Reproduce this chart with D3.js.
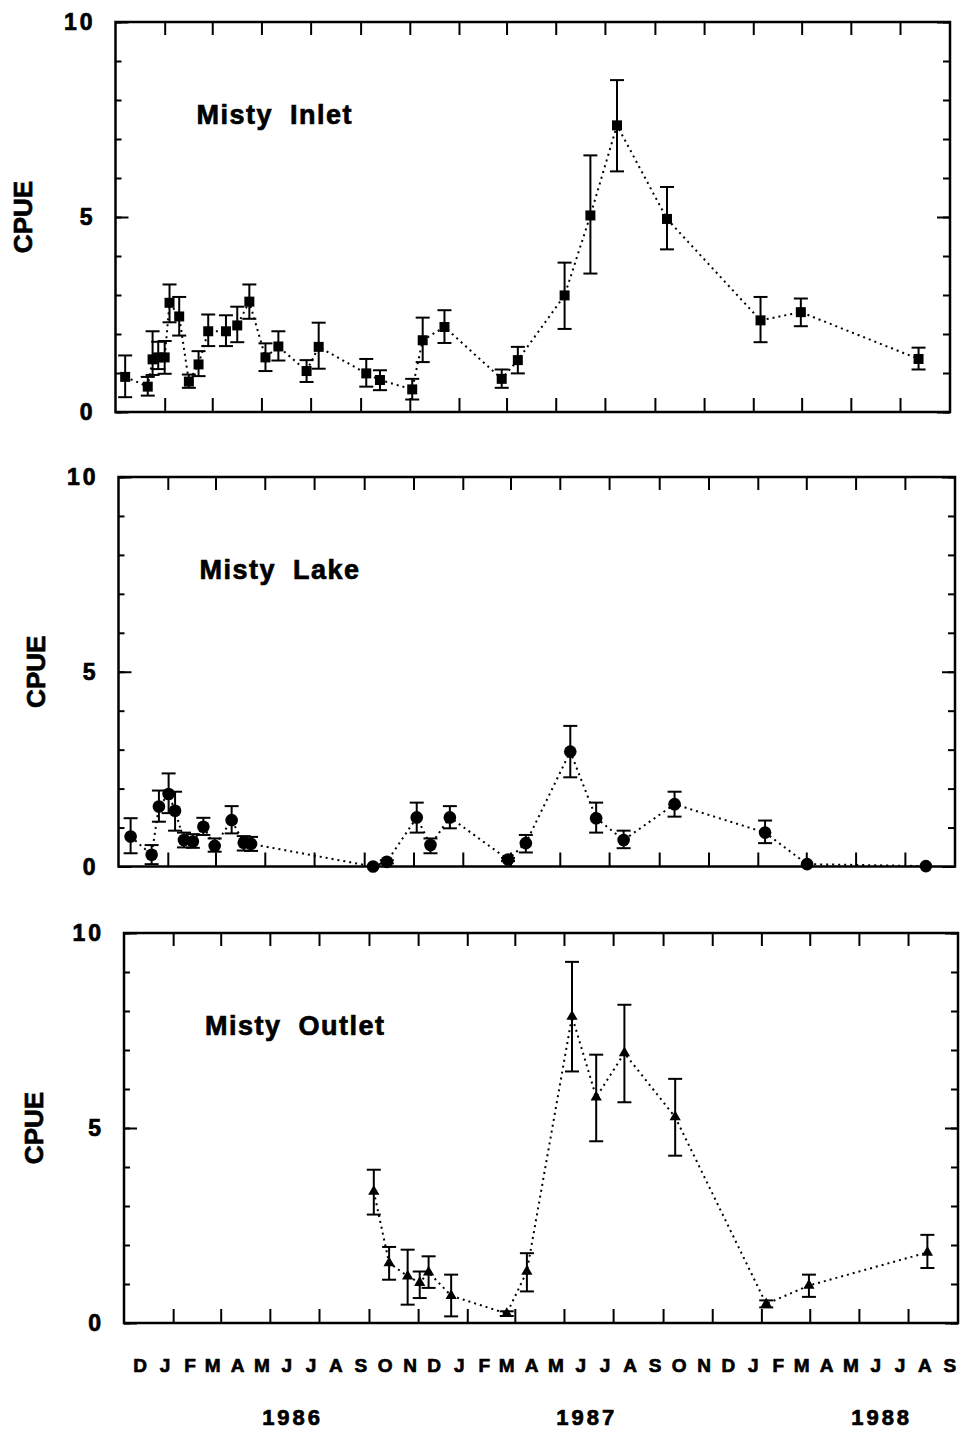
<!DOCTYPE html>
<html>
<head>
<meta charset="utf-8">
<script src="https://cdn.jsdelivr.net/npm/d3@7"></script>
<style>
body { margin: 0; background: #fff; }
text { font-family: "Liberation Sans", Arial, sans-serif; font-weight: bold; fill: #000; stroke: #000; stroke-width: 0.7px; }
</style>
</head>
<body>
<svg id="chart" width="964" height="1431"></svg>
<script>
//------------------- data ------------------
var inletDates = ["1985-11-13","1985-12-11","1985-12-17","1985-12-24","1986-01-01","1986-01-07","1986-01-19","1986-01-31","1986-02-12","1986-02-24","1986-03-18","1986-04-01","1986-04-16","1986-05-06","1986-05-22","1986-06-26","1986-07-11","1986-09-08","1986-09-25","1986-11-04","1986-11-17","1986-12-14","1987-02-23","1987-03-15","1987-05-12","1987-06-13","1987-07-16","1987-09-16","1988-01-10","1988-02-29","1988-07-24"];
var inletCpue = [0.9,0.65,1.35,1.4,1.4,2.8,2.45,0.78,1.22,2.07,2.07,2.22,2.83,1.4,1.68,1.05,1.67,0.99,0.82,0.58,1.84,2.18,0.85,1.33,2.99,5.04,7.35,4.95,2.35,2.56,1.36];
var inletLow  = [0.38,0.42,0.95,1.1,0.98,2.3,1.96,0.62,0.92,1.69,1.69,1.79,2.39,1.05,1.32,0.77,1.11,0.65,0.56,0.32,1.28,1.77,0.62,0.99,2.13,3.55,6.17,4.17,1.79,2.2,1.09];
var inletHigh = [1.45,0.9,2.07,1.8,1.82,3.27,2.95,0.96,1.56,2.5,2.48,2.7,3.27,1.76,2.07,1.33,2.29,1.36,1.07,0.85,2.42,2.61,1.09,1.67,3.83,6.58,8.51,5.77,2.95,2.91,1.65];

var lakeDates = ["1985-11-16","1985-12-12","1985-12-21","1986-01-02","1986-01-10","1986-01-21","1986-02-01","1986-02-14","1986-02-28","1986-03-21","1986-04-05","1986-04-14","1986-09-12","1986-09-29","1986-11-05","1986-11-22","1986-12-16","1987-02-26","1987-03-20","1987-05-14","1987-06-15","1987-07-19","1987-09-20","1988-01-10","1988-03-02","1988-07-27"];
var lakeCpue = [0.77,0.3,1.54,1.86,1.43,0.68,0.64,1.02,0.53,1.19,0.61,0.58,0,0.12,1.26,0.55,1.26,0.18,0.6,2.95,1.24,0.68,1.6,0.87,0.06,0.01];
var lakeLow  = [0.34,0.06,1.15,1.37,0.92,0.49,0.48,0.81,0.38,0.85,0.41,0.4,0,0.08,0.87,0.34,0.98,0.14,0.36,2.29,0.87,0.47,1.28,0.6,0.04,0];
var lakeHigh = [1.24,0.55,1.95,2.39,1.92,0.87,0.83,1.25,0.72,1.55,0.78,0.76,0,0.16,1.64,0.72,1.55,0.22,0.81,3.61,1.64,0.92,1.92,1.18,0.08,0.02];

var outletDates = ["1986-09-07","1986-09-26","1986-10-19","1986-11-03","1986-11-14","1986-12-12","1987-02-19","1987-03-16","1987-05-11","1987-06-10","1987-07-15","1987-09-16","1988-01-07","1988-02-29","1988-07-25"];
var outletCpue = [3.37,1.54,1.2,1.03,1.3,0.7,0.24,1.32,7.86,5.79,6.92,5.28,0.49,0.96,1.81];
var outletLow  = [2.78,1.11,0.47,0.64,0.9,0.17,0.18,0.81,6.45,4.66,5.66,4.29,0.4,0.67,1.41];
var outletHigh = [3.93,1.95,1.88,1.32,1.71,1.24,0.3,1.79,9.26,6.88,8.16,6.26,0.58,1.24,2.26];

var monthLabels = ["D","J","F","M","A","M","J","J","A","S","O","N","D","J","F","M","A","M","J","J","A","S","O","N","D","J","F","M","A","M","J","J","A","S"];
var yearLabels = ["1986","1987","1988"];
var yearLabelDates = ["1986-05-28","1987-05-28","1988-05-28"];
var yTickLabels = [0, 5, 10];

//------------------- layout ------------------
var parse = d3.timeParse("%Y-%m-%d");
var xStart = new Date(1985, 10, 1), xEnd = new Date(1988, 8, 1);

// the scan is a little skewed, so each frame has its own edges
var panels = [
  {title: "Misty Inlet",  dates: inletDates,  cpue: inletCpue,  lo: inletLow,  hi: inletHigh,  symbol: d3.symbolSquare,   size: 100, top: 22,  bottom: 412,  left: 115.5, right: 950, labelX: 23},
  {title: "Misty Lake",   dates: lakeDates,   cpue: lakeCpue,   lo: lakeLow,   hi: lakeHigh,   symbol: d3.symbolCircle,   size: 125, top: 477, bottom: 866.5, left: 118.5, right: 955, labelX: 36},
  {title: "Misty Outlet", dates: outletDates, cpue: outletCpue, lo: outletLow, hi: outletHigh, symbol: d3.symbolTriangle, size: 55,  top: 933, bottom: 1323, left: 124,  right: 958, labelX: 34}
];

var svg = d3.select("#chart");
var tickDates = d3.timeMonth.every(2).range(new Date(1986, 0, 1), xEnd);
var minorY = d3.range(0, 11);

panels.forEach(function(p) {
  var x = d3.scaleTime().domain([xStart, xEnd]).range([p.left, p.right]);
  var y = d3.scaleLinear().domain([0, 10]).range([p.bottom, p.top]);
  p.x = x;
  var g = svg.append("g");

  // inward ticks on all four sides
  g.append("g").attr("transform", "translate(0," + p.top + ")")
    .call(d3.axisTop(x).tickValues(tickDates).tickSizeInner(-13).tickSizeOuter(0).tickFormat(""));
  g.append("g").attr("transform", "translate(0," + p.bottom + ")")
    .call(d3.axisBottom(x).tickValues(tickDates).tickSizeInner(-14).tickSizeOuter(0).tickFormat(""));
  g.append("g").attr("transform", "translate(" + p.left + ",0)")
    .call(d3.axisLeft(y).tickValues(minorY).tickSizeInner(-6).tickSizeOuter(0).tickFormat(""));
  g.append("g").attr("transform", "translate(" + p.left + ",0)")
    .call(d3.axisLeft(y).tickValues(yTickLabels).tickSizeInner(-13).tickSizeOuter(0).tickFormat(""));
  g.append("g").attr("transform", "translate(" + p.right + ",0)")
    .call(d3.axisRight(y).tickValues(minorY).tickSizeInner(-7).tickSizeOuter(0).tickFormat(""));
  g.append("g").attr("transform", "translate(" + p.right + ",0)")
    .call(d3.axisRight(y).tickValues(yTickLabels).tickSizeInner(-13).tickSizeOuter(0).tickFormat(""));
  g.selectAll(".domain").remove();
  g.selectAll(".tick line").attr("stroke", "#000").attr("stroke-width", 2);

  // frame
  g.append("rect")
    .attr("x", p.left).attr("y", p.top)
    .attr("width", p.right - p.left).attr("height", p.bottom - p.top)
    .attr("fill", "none").attr("stroke", "#000").attr("stroke-width", 2.5);

  // y tick labels
  g.selectAll(".ylab").data(yTickLabels).enter().append("text")
    .attr("x", p.left - 20).attr("y", function(d) { return y(d); })
    .attr("dy", "0.36em").attr("text-anchor", "end")
    .style("font-size", "23px").style("letter-spacing", "3px")
    .text(function(d) { return d; });

  g.append("text")
    .attr("transform", "translate(" + p.labelX + "," + y(5) + ") rotate(-90)")
    .attr("dy", "0.36em").attr("text-anchor", "middle")
    .style("font-size", "26px")
    .text("CPUE");

  g.append("text")
    .attr("x", p.left + 81).attr("y", p.top + 102)
    .style("font-size", "27px").style("letter-spacing", "1.5px").style("word-spacing", "8px")
    .text(p.title);

  var pts = p.dates.map(function(d, i) {
    return {date: parse(d), v: p.cpue[i], lo: p.lo[i], hi: p.hi[i]};
  });

  // dotted connecting line
  g.append("path").datum(pts)
    .attr("fill", "none").attr("stroke", "#000").attr("stroke-width", 2)
    .attr("stroke-dasharray", "2,4")
    .attr("d", d3.line().x(function(d) { return x(d.date); }).y(function(d) { return y(d.v); }));

  // error bars
  var bars = pts.filter(function(d) { return d.hi - d.lo > 0.05; });
  var eb = g.selectAll(".err").data(bars).enter().append("g")
    .attr("stroke", "#000").attr("stroke-width", 2);
  eb.append("line")
    .attr("x1", function(d) { return x(d.date); }).attr("x2", function(d) { return x(d.date); })
    .attr("y1", function(d) { return y(d.lo); }).attr("y2", function(d) { return y(d.hi); });
  eb.append("line")
    .attr("x1", function(d) { return x(d.date) - 7; }).attr("x2", function(d) { return x(d.date) + 7; })
    .attr("y1", function(d) { return y(d.hi); }).attr("y2", function(d) { return y(d.hi); });
  eb.append("line")
    .attr("x1", function(d) { return x(d.date) - 7; }).attr("x2", function(d) { return x(d.date) + 7; })
    .attr("y1", function(d) { return y(d.lo); }).attr("y2", function(d) { return y(d.lo); });

  // markers
  g.selectAll(".pt").data(pts).enter().append("path")
    .attr("transform", function(d) { return "translate(" + x(d.date) + "," + y(d.v) + ")"; })
    .attr("d", d3.symbol().type(p.symbol).size(p.size))
    .attr("fill", "#000");
});

//------------------- month and year labels under the last frame ------------------
var xb = panels[2].x;
var monthStarts = d3.timeMonth.range(new Date(1985, 11, 1), new Date(1988, 9, 1));
svg.selectAll(".mon").data(monthLabels).enter().append("text")
  .attr("x", function(d, i) { return xb(d3.timeDay.offset(monthStarts[i], -10)); })
  .attr("y", 1372)
  .attr("text-anchor", "middle")
  .style("font-size", "19px")
  .text(function(d) { return d; });

svg.selectAll(".yr").data(yearLabels).enter().append("text")
  .attr("x", function(d, i) { return xb(parse(yearLabelDates[i])) + 1; })
  .attr("y", 1425)
  .attr("text-anchor", "middle")
  .style("font-size", "22px").style("letter-spacing", "3px")
  .text(function(d) { return d; });
</script>
</body>
</html>
